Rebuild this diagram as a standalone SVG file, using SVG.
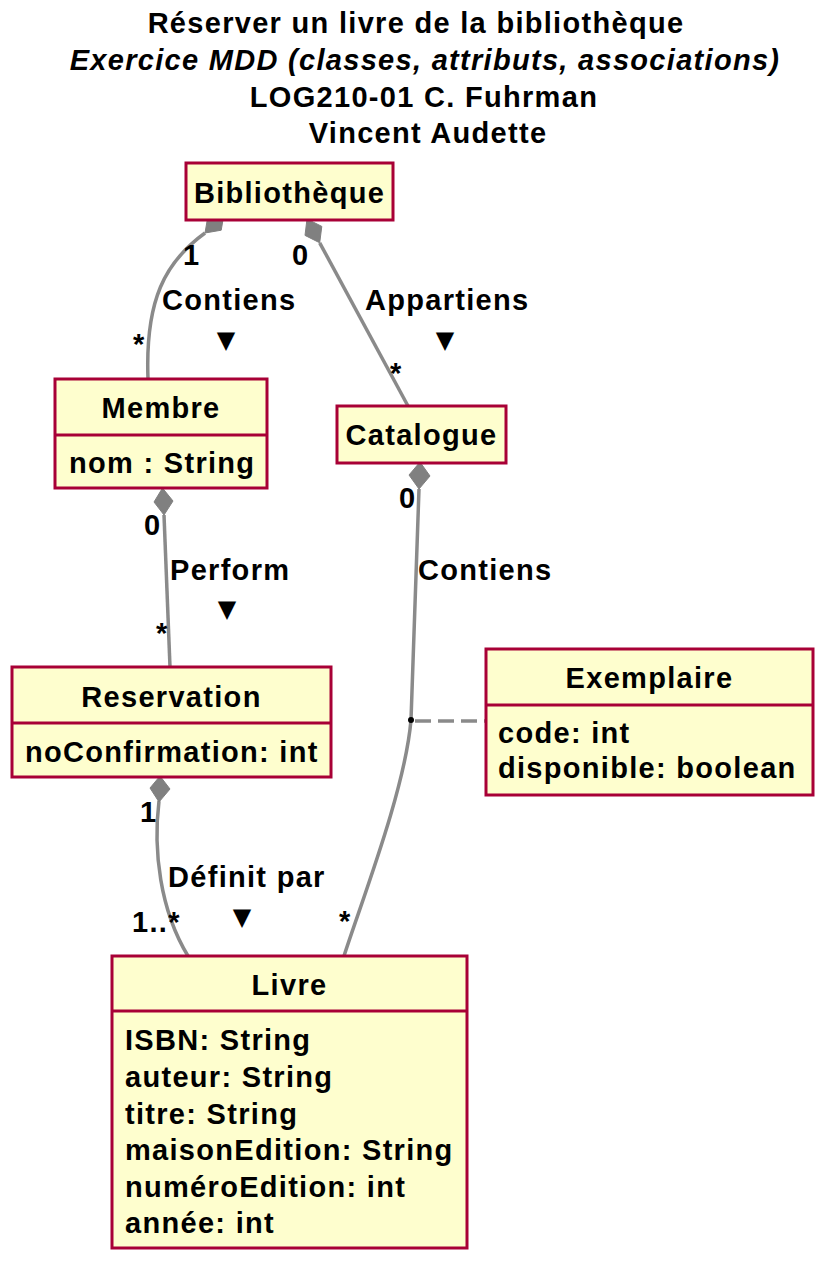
<svg xmlns="http://www.w3.org/2000/svg" width="832" height="1268" viewBox="0 0 832 1268">
<style>
text{font-family:"Liberation Sans",Arial,sans-serif;font-weight:bold;font-size:29px;letter-spacing:1.3px;fill:#000}
.c{text-anchor:middle}
.it{font-style:italic}
.tri{font-family:"DejaVu Sans",sans-serif;font-size:24px;letter-spacing:0;text-anchor:middle}
.box{fill:#FEFECE;stroke:#A80036;stroke-width:3}
.sep{stroke:#A80036;stroke-width:3}
.ln{fill:none;stroke:#8A8A8A;stroke-width:3.5}
.dia{fill:#808080;stroke:#808080;stroke-width:1}
</style>
<rect width="832" height="1268" fill="#fff"/>
<g id="title">
<text class="c" x="416" y="33">Réserver un livre de la bibliothèque</text>
<text class="c it" x="425" y="70">Exercice MDD (classes, attributs, associations)</text>
<text class="c" x="424" y="107">LOG210-01 C. Fuhrman</text>
<text class="c" x="428" y="143">Vincent Audette</text>
</g>
<g id="connectors">
<path class="ln" d="M205,233 C165,262 145,300 148,379"/>
<polygon class="dia" points="224,214 221.2,230.2 205,233 207.8,216.8"/>
<path class="ln" d="M319.7,242.8 L408,406"/>
<polygon class="dia" points="307,219 321.8,226.4 319.7,242.8 305,235.4"/>
<path class="ln" d="M164,515 L170,667"/>
<polygon class="dia" points="162.5,488 173,501 164,515 154,502"/>
<path class="ln" d="M419,489 L411,720 C405,790 362,900 344,956"/>
<polygon class="dia" points="420,462 430,476 419,489 409,475"/>
<path class="ln" d="M159,801 C153,850 160,910 188,956"/>
<polygon class="dia" points="160,776 170,789 159,802 150,788"/>
<line x1="415" y1="721" x2="486" y2="721" stroke="#8A8A8A" stroke-width="3.5" stroke-dasharray="16,7"/>
<circle cx="411" cy="720" r="3" fill="#000"/>
<text x="183" y="265">1</text>
<text x="292" y="265">0</text>
<text x="133" y="354">*</text>
<text x="390" y="383">*</text>
<text x="162" y="310">Contiens</text>
<text class="tri" x="226" y="348">▼</text>
<text x="365" y="310">Appartiens</text>
<text class="tri" x="445" y="348">▼</text>
<text x="144" y="535">0</text>
<text x="156" y="643">*</text>
<text x="170" y="580">Perform</text>
<text class="tri" x="227" y="617">▼</text>
<text x="399" y="508">0</text>
<text x="418" y="580">Contiens</text>
<text x="140" y="822">1</text>
<text x="132" y="932">1..*</text>
<text x="339" y="931">*</text>
<text x="168" y="887">Définit par</text>
<text class="tri" x="242" y="925">▼</text>
</g>
<g id="Bibliotheque">
<rect class="box" x="186" y="163" width="207" height="57"/>
<text class="c" x="289.5" y="203">Bibliothèque</text>
</g>
<g id="Membre">
<rect class="box" x="55" y="379" width="212" height="109"/>
<line class="sep" x1="55" y1="435" x2="267" y2="435"/>
<text class="c" x="161" y="418">Membre</text>
<text x="69" y="473">nom : String</text>
</g>
<g id="Catalogue">
<rect class="box" x="337" y="406" width="169" height="57"/>
<text class="c" x="421.5" y="445">Catalogue</text>
</g>
<g id="Reservation">
<rect class="box" x="12" y="667" width="319" height="110"/>
<line class="sep" x1="12" y1="723" x2="331" y2="723"/>
<text class="c" x="171.5" y="707">Reservation</text>
<text x="25" y="762">noConfirmation: int</text>
</g>
<g id="Exemplaire">
<rect class="box" x="486" y="649" width="327" height="146"/>
<line class="sep" x1="486" y1="705" x2="813" y2="705"/>
<text class="c" x="649.5" y="688">Exemplaire</text>
<text x="498" y="743">code: int</text>
<text x="498" y="778">disponible: boolean</text>
</g>
<g id="Livre">
<rect class="box" x="112" y="956" width="355" height="292"/>
<line class="sep" x1="112" y1="1011" x2="467" y2="1011"/>
<text class="c" x="289.5" y="995">Livre</text>
<text x="125" y="1050">ISBN: String</text>
<text x="125" y="1087">auteur: String</text>
<text x="125" y="1124">titre: String</text>
<text x="125" y="1160">maisonEdition: String</text>
<text x="125" y="1197">numéroEdition: int</text>
<text x="125" y="1233">année: int</text>
</g>
</svg>
